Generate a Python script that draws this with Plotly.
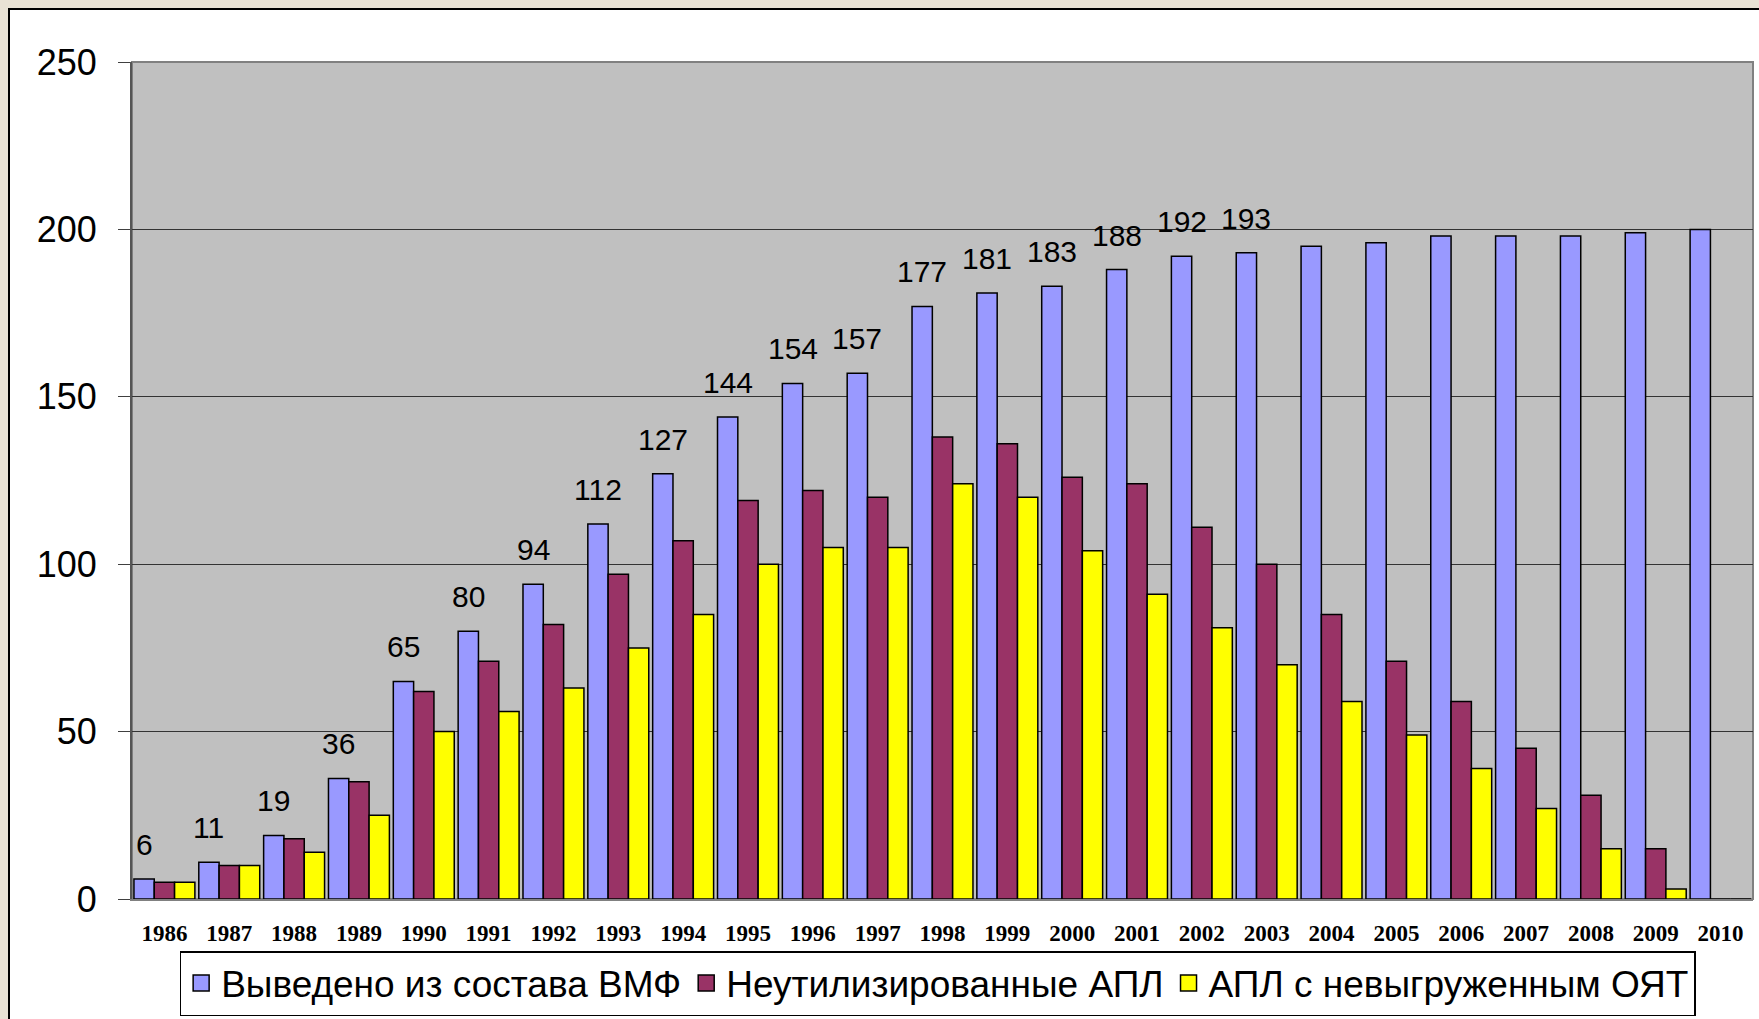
import plotly.graph_objects as go

# ---- data ----
years = [str(y) for y in range(1986, 2011)]
withdrawn = [6, 11, 19, 36, 65, 80, 94, 112, 127, 144, 154, 157, 177, 181, 183, 188, 192, 193,
             195, 196, 198, 198, 198, 199, 200]
not_disposed = [5, 10, 18, 35, 62, 71, 82, 97, 107, 119, 122, 120, 138, 136, 126, 124, 111, 100,
                85, 71, 59, 45, 31, 15, 0]
with_snf = [5, 10, 14, 25, 50, 56, 63, 75, 85, 100, 105, 105, 124, 120, 104, 91, 81, 70,
            59, 49, 39, 27, 15, 3, 0]
labelled_years = years[:18]
series_names = ["Выведено из состава ВМФ", "Неутилизированные АПЛ", "АПЛ с невыгруженным ОЯТ"]
y_ticks = [0, 50, 100, 150, 200, 250]

colors = ["#9999FF", "#993366", "#FFFF00"]

W, H = 1759, 1019
L, R, T, B = 132, 6, 62, 120
plot_w = W - L - R
plot_h = H - T - B
BARGAP = 0.06

fig = go.Figure()
for vals, col, name in zip([withdrawn, not_disposed, with_snf], colors, series_names):
    fig.add_trace(go.Bar(
        x=years, y=vals, name=name, showlegend=False,
        marker=dict(color=col, line=dict(color="black", width=1.5)),
        hoverinfo="x+y",
    ))
# legend proxies
for col, name in zip(colors, series_names):
    fig.add_trace(go.Scatter(
        x=[years[0]], y=[None], mode="markers", name=name,
        marker=dict(symbol="square", size=16, color=col, line=dict(color="black", width=1.5)),
    ))

# data labels above first series (category index used for x on category axis)
cat_w = plot_w / len(years)
bar_w = cat_w * (1 - BARGAP) / 3
annotations = []
for i, (yr, v) in enumerate(zip(years, withdrawn)):
    if yr in labelled_years:
        annotations.append(dict(
            x=i, y=v, xref="x", yref="y", text=str(v), showarrow=False,
            xanchor="center", yanchor="bottom", xshift=-bar_w, yshift=16,
            font=dict(family="Liberation Sans, Arial", size=30, color="black"),
        ))

shapes = [
    # white chart frame
    dict(type="rect", xref="paper", yref="paper", layer="below",
         x0=(9 - L) / plot_w, x1=1.1, y0=-0.3, y1=(plot_h + T - 9) / plot_h,
         fillcolor="white", line=dict(color="black", width=2)),
    # plot area
    dict(type="rect", xref="paper", yref="paper", layer="below",
         x0=0, x1=1, y0=0, y1=1,
         fillcolor="#C0C0C0", line=dict(color="#808080", width=2)),
]

legend_top_px = 951
fig.update_layout(
    width=W, height=H,
    margin=dict(l=L, r=R, t=T, b=B, pad=0, autoexpand=False),
    paper_bgcolor="#E9E2D5",
    plot_bgcolor="rgba(0,0,0,0)",
    barmode="group", bargap=BARGAP, bargroupgap=0,
    shapes=shapes,
    annotations=annotations,
    showlegend=True,
    legend=dict(
        orientation="h", x=0.497, xanchor="center",
        yref="container", y=1 - legend_top_px / H, yanchor="top",
        bgcolor="white", bordercolor="black", borderwidth=1.5,
        font=dict(family="Liberation Sans, Arial", size=37, color="black"),
        itemclick=False, itemdoubleclick=False,
    ),
    xaxis=dict(
        type="category", categoryorder="array", categoryarray=years,
        range=[-0.5, len(years) - 0.5], automargin=False,
        showgrid=False, ticks="", showline=True, linecolor="#808080", linewidth=2,
        tickfont=dict(family="Liberation Serif, Times New Roman", size=23, color="black", weight="bold"),
        ticklabelstandoff=12, fixedrange=True,
    ),
    yaxis=dict(
        range=[0, 250], tickvals=y_ticks, ticks="outside", ticklen=12, tickcolor="#404040", tickwidth=1,
        automargin=False,
        showgrid=True, gridcolor="#333333", gridwidth=1, zeroline=False,
        showline=True, linecolor="#555555", linewidth=2,
        tickfont=dict(family="Liberation Sans, Arial", size=36, color="black"),
        ticklabelstandoff=14, fixedrange=True,
    ),
)

fig.write_html("out.html", config={"displayModeBar": False},
               post_script="document.body.style.margin='0px';")
